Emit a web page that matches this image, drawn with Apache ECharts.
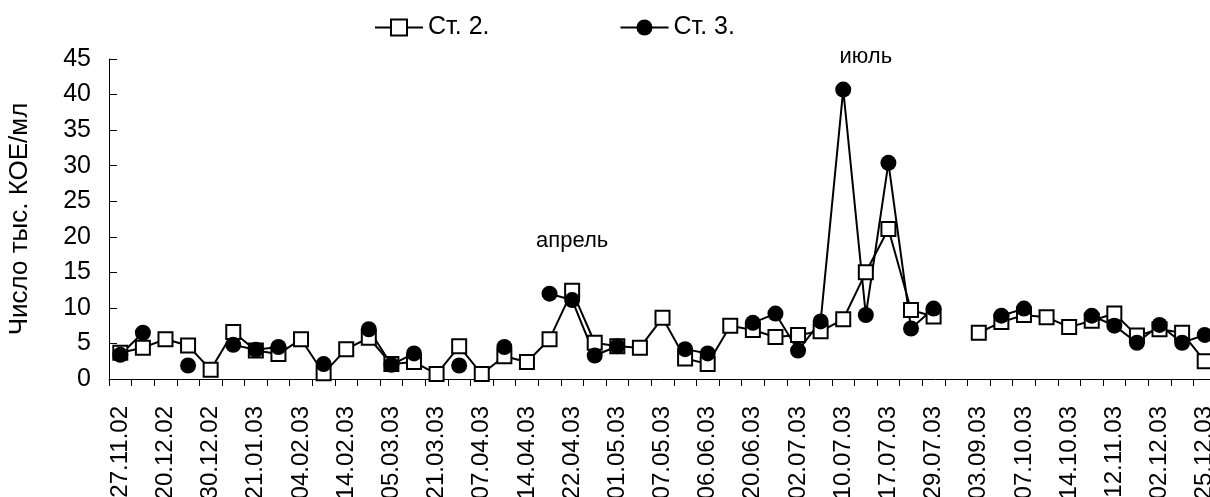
<!DOCTYPE html>
<html>
<head>
<meta charset="utf-8">
<script src="https://cdn.jsdelivr.net/npm/echarts@6/dist/echarts.min.js"></script>
<style>
  html, body { margin: 0; padding: 0; background: #fff; }
  #chart { width: 1210px; height: 497px; }
</style>
</head>
<body>
<div id="chart"></div>
<script>
// dates under the axis; unlabeled samples in between are left blank
const dates = [
  '27.11.02', '', '20.12.02', '', '30.12.02', '', '21.01.03', '', '04.02.03', '',
  '14.02.03', '', '05.03.03', '', '21.03.03', '', '07.04.03', '', '14.04.03', '',
  '22.04.03', '', '01.05.03', '', '07.05.03', '', '06.06.03', '', '20.06.03', '',
  '02.07.03', '', '10.07.03', '', '17.07.03', '', '29.07.03', '', '03.09.03', '',
  '07.10.03', '', '14.10.03', '', '12.11.03', '', '02.12.03', '', '25.12.03'
];

const st2 = [
  3.7, 4.4, 5.6, 4.7, 1.3, 6.6, 4.0, 3.5, 5.6, 0.8,
  4.2, 5.8, 2.1, 2.4, 0.7, 4.6, 0.7, 3.2, 2.4, 5.6,
  12.4, 5.1, 4.6, 4.4, 8.6, 2.9, 2.1, 7.5, 6.9, 5.9,
  6.2, 6.7, 8.4, 15.0, 21.1, 9.7, 8.8, null, 6.5, 8.0,
  9.0, 8.7, 7.3, 8.2, 9.2, 6.1, 7.0, 6.5, 2.5
];

const st3 = [
  3.4, 6.5, null, 1.9, null, 4.8, 4.1, 4.5, null, 2.1,
  null, 7.0, 2.0, 3.6, null, 1.9, null, 4.5, null, 12.0,
  11.1, 3.3, 4.6, null, null, 4.2, 3.6, null, 7.9, 9.2,
  4.0, 8.1, 40.7, 9.0, 30.4, 7.1, 9.9, null, null, 8.9,
  9.9, null, null, 8.9, 7.5, 5.1, 7.6, 5.1, 6.2
];

const yTicks = { min: 0, max: 45, step: 5 };

// notes over the peaks: [category index, value, text]
const notes = [
  [20, 19.4, 'апрель'],
  [33, 45.3, 'июль']
];

const chart = echarts.init(document.getElementById('chart'));
const font = 'Liberation Sans, Arial, sans-serif';

chart.setOption({
  backgroundColor: '#fff',
  animation: false,
  textStyle: { fontFamily: font, color: '#000' },
  legend: {
    top: 10,
    left: 369,
    itemWidth: 48,
    itemHeight: 20,
    itemGap: 130,
    textStyle: { fontSize: 25, color: '#000', fontFamily: font },
    data: ['Ст. 2.', 'Ст. 3.']
  },
  grid: {
    left: 109,
    right: -6,
    top: 59,
    bottom: 118,
    outerBoundsMode: 'none'
  },
  xAxis: {
    type: 'category',
    data: dates,
    boundaryGap: true,
    axisLine: { lineStyle: { color: '#000', width: 1 } },
    axisTick: { show: true, length: 7, interval: 0, lineStyle: { color: '#000' } },
    axisLabel: {
      interval: 1,
      rotate: 90,
      margin: 27,
      fontSize: 24,
      color: '#000',
      fontFamily: font
    }
  },
  yAxis: {
    type: 'value',
    min: yTicks.min,
    max: yTicks.max,
    interval: yTicks.step,
    name: 'Число тыс. КОЕ/мл',
    nameLocation: 'middle',
    nameRotate: 90,
    nameGap: 76,
    nameTextStyle: { fontSize: 26, color: '#000', fontFamily: font },
    axisLine: { show: true, lineStyle: { color: '#000', width: 1 } },
    axisTick: { show: true, inside: true, length: 8, lineStyle: { color: '#000' } },
    axisLabel: { margin: 18, fontSize: 25, color: '#000', fontFamily: font },
    splitLine: { show: false }
  },
  series: [
    {
      name: 'Ст. 2.',
      type: 'line',
      data: st2,
      symbol: 'rect',
      symbolSize: 14,
      showAllSymbol: true,
      connectNulls: false,
      lineStyle: { color: '#000', width: 2 },
      itemStyle: { color: '#fff', borderColor: '#000', borderWidth: 2 }
    },
    {
      name: 'Ст. 3.',
      type: 'line',
      data: st3,
      symbol: 'circle',
      symbolSize: 16,
      showAllSymbol: true,
      connectNulls: false,
      lineStyle: { color: '#000', width: 2 },
      itemStyle: { color: '#000' }
    }
  ]
});

// place the notes through the chart's own scales
chart.setOption({
  graphic: notes.map(n => {
    const p = chart.convertToPixel({ gridIndex: 0 }, [n[0], n[1]]);
    return {
      type: 'text',
      x: p[0],
      y: p[1],
      style: {
        text: n[2],
        font: '22px ' + font,
        fill: '#000',
        align: 'center',
        verticalAlign: 'middle'
      }
    };
  })
});
</script>
</body>
</html>
